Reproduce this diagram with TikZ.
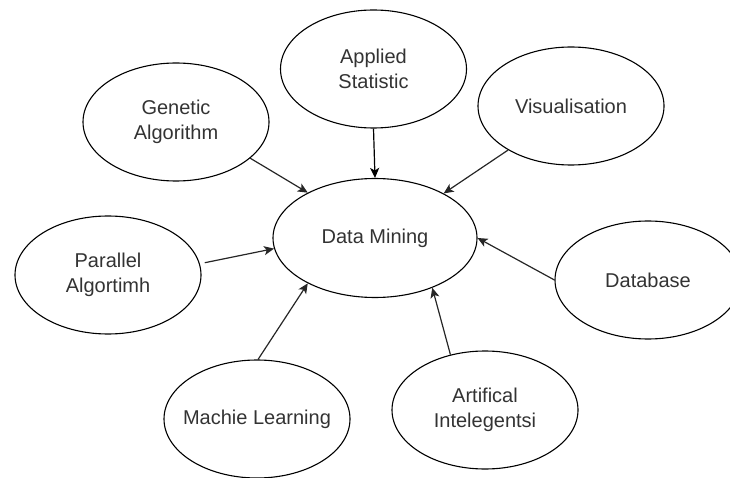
\documentclass[tikz,border=0pt]{standalone}
\usepackage{fontspec}
\setmainfont{Liberation Sans}
\usetikzlibrary{shapes.geometric,arrows.meta}
\begin{document}
\begin{tikzpicture}[x=1pt,y=-1pt,
  topic/.style={ellipse,draw=black,line width=1.1pt,minimum width=186pt,minimum height=118pt,inner sep=0pt,align=center,text=black!80,font=\fontsize{20}{25}\selectfont},
  link/.style={draw=black!85,line width=1.2pt,-{Stealth[length=10pt,width=9pt,inset=2.5pt]}}]
\useasboundingbox (0,0) rectangle (730,478);
\clip (0,0) rectangle (730,478);
\node[topic] (app) at (373.5,69) {Applied\\Statistic};
\node[topic] (gen) at (176,122) {Genetic\\Algorithm};
\node[topic] (vis) at (571,106) {Visualisation};
\node[topic,minimum width=204pt,minimum height=119pt] (dm) at (375,238) {Data Mining};
\node[topic] (par) at (108,275) {Parallel\\Algortimh};
\node[topic] (db) at (648,280) {Database};
\node[topic,inner xsep=-12pt] (ml) at (257,419) {Machie Learning};
\node[topic] (ai) at (485,410) {Artifical\\Intelegentsi};
\draw[link] (gen.-26) -- (dm.146);
\draw[link,draw=black] (app.south) -- (dm.north);
\draw[link] (vis.-145) -- (dm.33);
\draw[link,shorten <=5pt] (par.7) -- (dm.186);
\draw[link] (ml.89) -- (dm.-146);
\draw[link] (ai.122) -- (dm.-41);
\draw[link] (db.180) -- (dm.0);
\end{tikzpicture}
\end{document}
